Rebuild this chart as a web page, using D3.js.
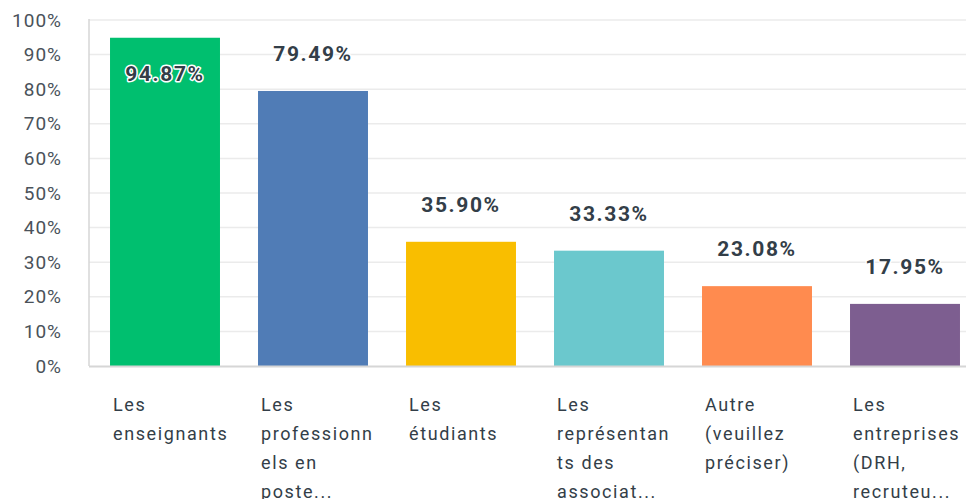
<!DOCTYPE html>
<html>
<head>
<meta charset="utf-8">
<script src="https://cdn.jsdelivr.net/npm/d3@7"></script>
<style>
  body { margin: 0; background: #fff; }
  svg { display: block; font-family: "Roboto", "Noto Sans", sans-serif; }
</style>
</head>
<body>
<svg id="chart" width="966" height="499"></svg>
<script>
var categories = [
  ["Les", "enseignants"],
  ["Les", "professionn", "els en", "poste..."],
  ["Les", "étudiants"],
  ["Les", "représentan", "ts des", "associat..."],
  ["Autre", "(veuillez", "préciser)"],
  ["Les", "entreprises", "(DRH,", "recruteu..."]
];
var values = [94.87, 79.49, 35.90, 33.33, 23.08, 17.95];
var colors = ["#00bf6f", "#507cb6", "#f9be00", "#6bc8cd", "#ff8b4f", "#7d5e90"];
var yTicks = [0, 10, 20, 30, 40, 50, 60, 70, 80, 90, 100];

var svg = d3.select("#chart");
var padLeft = 89, padBottom = 366, padTop = 20;

var x = d3.scaleBand()
          .domain(d3.range(values.length))
          .range([91, 91 + 6 * 148])
          .paddingInner(0.257)
          .paddingOuter(0.1285);

var y = d3.scaleLinear()
          .domain([0, 100])
          .range([padBottom, padTop]);

// gridlines
svg.append("g")
   .selectAll("line")
   .data(yTicks.slice(1))
   .enter()
   .append("line")
   .attr("x1", padLeft)
   .attr("x2", 966)
   .attr("y1", function(d){ return y(d); })
   .attr("y2", function(d){ return y(d); })
   .style("stroke", "#ebebeb")
   .style("stroke-width", 1.5);

// y axis labels
var yAxis = svg.append("g")
   .attr("transform", "translate(" + padLeft + ",0)")
   .call(d3.axisLeft(y).tickValues(yTicks).tickSize(0).tickPadding(27)
           .tickFormat(function(d){ return d + "%"; }));
yAxis.select(".domain").remove();
yAxis.selectAll("text")
     .style("font-size", "19px")
     .style("fill", "#4a525a")
     .style("letter-spacing", "1px")
     .style("font-family", "Roboto, sans-serif");

// left axis line
svg.append("line")
   .attr("x1", padLeft).attr("x2", padLeft)
   .attr("y1", padTop - 1).attr("y2", padBottom)
   .style("stroke", "#d6d6d6")
   .style("stroke-width", 1.5);

// bars
svg.append("g")
   .selectAll("rect")
   .data(values)
   .enter()
   .append("rect")
   .attr("x", function(d, i){ return x(i); })
   .attr("y", function(d){ return y(d); })
   .attr("width", x.bandwidth())
   .attr("height", function(d){ return padBottom - y(d); })
   .style("fill", function(d, i){ return colors[i]; });

// baseline
svg.append("line")
   .attr("x1", padLeft).attr("x2", 966)
   .attr("y1", padBottom + 0.5).attr("y2", padBottom + 0.5)
   .style("stroke", "#d6d6d6")
   .style("stroke-width", 2);

// value labels
svg.append("g")
   .selectAll("text")
   .data(values)
   .enter()
   .append("text")
   .attr("x", function(d, i){ return x(i) + x.bandwidth() / 2; })
   .attr("y", function(d){
      var yy = y(d) - 30;
      return yy < 40 ? y(d) + 43 : yy;
   })
   .attr("text-anchor", "middle")
   .style("font-size", "21px")
   .style("font-weight", "bold")
   .style("letter-spacing", "1.6px")
   .style("fill", "#333e48")
   .style("stroke", "#fff")
   .style("stroke-width", 3)
   .style("stroke-linejoin", "round")
   .style("paint-order", "stroke")
   .text(function(d){ return d.toFixed(2) + "%"; });

// category labels
var cat = svg.append("g")
   .selectAll("text")
   .data(categories)
   .enter()
   .append("text")
   .attr("x", function(d, i){ return x(i) + 3; })
   .attr("y", 411)
   .style("font-size", "18px")
   .style("fill", "#333e48")
   .style("letter-spacing", "1.6px");

cat.selectAll("tspan")
   .data(function(d){ return d; })
   .enter()
   .append("tspan")
   .attr("x", function(){ return d3.select(this.parentNode).attr("x"); })
   .attr("dy", function(d, i){ return i == 0 ? 0 : 29; })
   .text(function(d){ return d; });
</script>
</body>
</html>
